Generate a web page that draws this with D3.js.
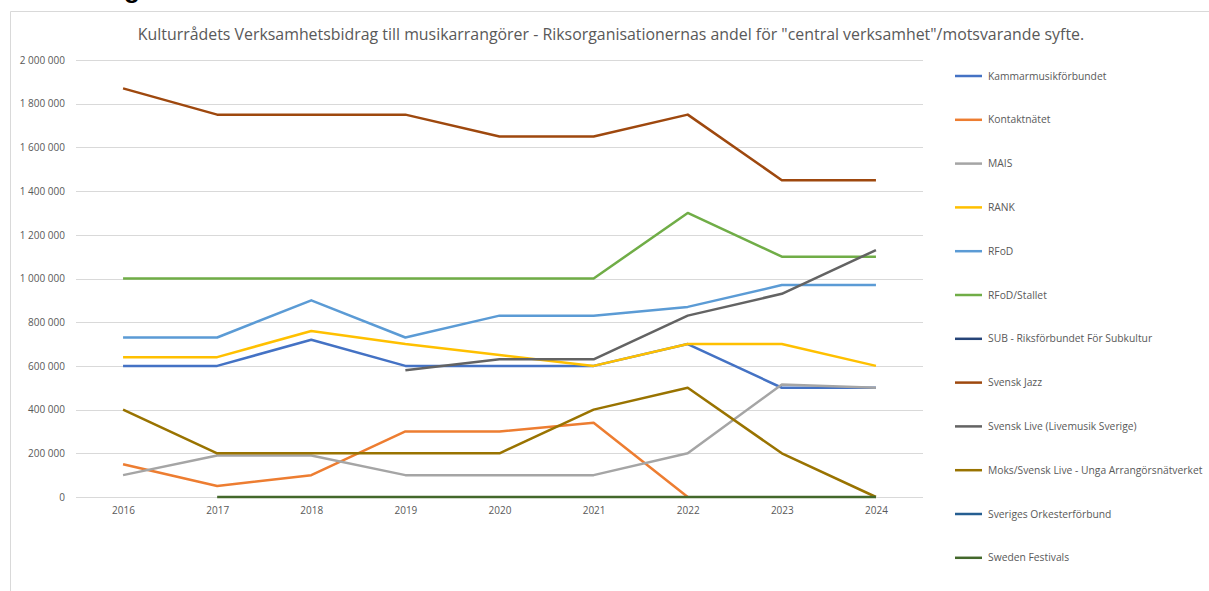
<!DOCTYPE html>
<html>
<head>
<meta charset="utf-8">
<script src="https://cdn.jsdelivr.net/npm/d3@7"></script>
<style>
  body { margin: 0; background: #fff; }
  svg { display: block; font-family: "Open Sans", "Noto Sans", sans-serif; }
</style>
</head>
<body>
<div id="chart"></div>
<script>
// Years on the x axis
const years = ["2016", "2017", "2018", "2019", "2020", "2021", "2022", "2023", "2024"];

// Series values (SEK), null where the series has no point
const kammarmusik = [600000, 600000, 720000, 600000, 600000, 600000, 700000, 500000, 500000];
const kontaktnatet = [150000, 50000, 100000, 300000, 300000, 340000, 0, null, null];
const mais = [100000, 190000, 190000, 100000, 100000, 100000, 200000, 515000, 500000];
const rank = [640000, 640000, 760000, 700000, 650000, 600000, 700000, 700000, 600000];
const rfod = [730000, 730000, 900000, 730000, 830000, 830000, 870000, 970000, 970000];
const rfodStallet = [1000000, 1000000, 1000000, 1000000, 1000000, 1000000, 1300000, 1100000, 1100000];
const sub = [null, null, null, null, null, null, null, null, null];
const svenskJazz = [1870000, 1750000, 1750000, 1750000, 1650000, 1650000, 1750000, 1450000, 1450000];
const svenskLive = [null, null, null, 580000, 630000, 630000, 830000, 930000, 1130000];
const moks = [400000, 200000, 200000, 200000, 200000, 400000, 500000, 200000, 0];
const orkesterforbund = [null, null, null, null, null, null, null, null, null];
const swedenFestivals = [null, 0, 0, 0, 0, 0, 0, 0, 0];

const seriesNames = [
    "Kammarmusikförbundet", "Kontaktnätet", "MAIS", "RANK", "RFoD", "RFoD/Stallet",
    "SUB - Riksförbundet För Subkultur", "Svensk Jazz", "Svensk Live (Livemusik Sverige)",
    "Moks/Svensk Live - Unga Arrangörsnätverket", "Sveriges Orkesterförbund", "Sweden Festivals"
];
const seriesValues = [kammarmusik, kontaktnatet, mais, rank, rfod, rfodStallet,
    sub, svenskJazz, svenskLive, moks, orkesterforbund, swedenFestivals];
const seriesColors = ["#4472C4", "#ED7D31", "#A5A5A5", "#FFC000", "#5B9BD5", "#70AD47",
    "#264478", "#9E480E", "#636363", "#997300", "#255E91", "#43682B"];

const yTicks = [0, 200000, 400000, 600000, 800000, 1000000, 1200000, 1400000, 1600000, 1800000, 2000000];

const W = 1209, H = 591;
const plot = { left: 76, right: 923, top: 60, bottom: 497 };

const svg = d3.select("#chart").append("svg")
    .attr("width", W)
    .attr("height", H);

// Heading from the page above, mostly cut off
svg.append("text")
    .attr("x", 124)
    .attr("y", -2)
    .style("font-family", "Liberation Sans, sans-serif")
    .style("font-size", "26px")
    .style("font-weight", "bold")
    .attr("fill", "#000")
    .text("g");

// Chart frame
svg.append("path")
    .attr("d", `M10.5,${H} V11.5 H${W}`)
    .attr("fill", "none")
    .attr("stroke", "#D9D9D9")
    .attr("stroke-width", 1);

// Scales
const x = d3.scalePoint()
    .domain(years)
    .range([plot.left, plot.right])
    .padding(0.5);

const y = d3.scaleLinear()
    .domain([0, 2000000])
    .range([plot.bottom, plot.top]);

const fmt = v => d3.format(",")(v).replace(/,/g, " ");

// Gridlines
svg.append("g")
    .selectAll("line")
    .data(yTicks)
    .enter()
    .append("line")
    .attr("x1", plot.left)
    .attr("x2", plot.right)
    .attr("y1", d => Math.round(y(d)) + 0.5)
    .attr("y2", d => Math.round(y(d)) + 0.5)
    .attr("stroke", "#D9D9D9")
    .attr("stroke-width", 1);

// Y axis labels
const yAxis = svg.append("g")
    .attr("transform", `translate(${plot.left - 11}, 0)`)
    .call(d3.axisLeft(y).tickValues(yTicks).tickFormat(fmt).tickSize(0).tickPadding(0));
yAxis.select(".domain").remove();
yAxis.selectAll("text")
    .attr("fill", "#595959")
    .style("font-size", "10px")
    .style("font-family", "Open Sans, sans-serif");

// X axis labels
const xAxis = svg.append("g")
    .attr("transform", `translate(0, ${plot.bottom})`)
    .call(d3.axisBottom(x).tickSize(0).tickPadding(10));
xAxis.select(".domain").remove();
xAxis.selectAll("text")
    .attr("fill", "#595959")
    .style("font-size", "10px")
    .style("font-family", "Open Sans, sans-serif");

// Title
svg.append("text")
    .attr("x", 611)
    .attr("y", 40)
    .attr("text-anchor", "middle")
    .attr("fill", "#595959")
    .style("font-size", "15.9px")
    .style("font-family", "Open Sans, sans-serif")
    .text("Kulturrådets Verksamhetsbidrag till musikarrangörer - Riksorganisationernas andel för \"central verksamhet\"/motsvarande syfte.");

// Lines
const line = d3.line()
    .defined(d => d.value !== null)
    .x(d => x(d.year))
    .y(d => y(d.value));

seriesNames.forEach((name, i) => {
    const pts = years.map((yr, j) => ({ year: yr, value: seriesValues[i][j] }));
    svg.append("path")
        .datum(pts)
        .attr("d", line)
        .attr("fill", "none")
        .attr("stroke", seriesColors[i])
        .attr("stroke-width", 2.5)
        .attr("stroke-linejoin", "round");
});

// Legend
const legend = svg.append("g").attr("class", "legend");
const legendY = i => 76 + i * 43.8;

legend.selectAll("line")
    .data(seriesNames)
    .enter()
    .append("line")
    .attr("x1", 955)
    .attr("x2", 982)
    .attr("y1", (d, i) => legendY(i))
    .attr("y2", (d, i) => legendY(i))
    .attr("stroke", (d, i) => seriesColors[i])
    .attr("stroke-width", 2.5);

legend.selectAll("text")
    .data(seriesNames)
    .enter()
    .append("text")
    .attr("x", 988)
    .attr("y", (d, i) => legendY(i) + 3.6)
    .attr("fill", "#595959")
    .style("font-size", "10.3px")
    .style("font-family", "Open Sans, sans-serif")
    .text(d => d);
</script>
</body>
</html>
